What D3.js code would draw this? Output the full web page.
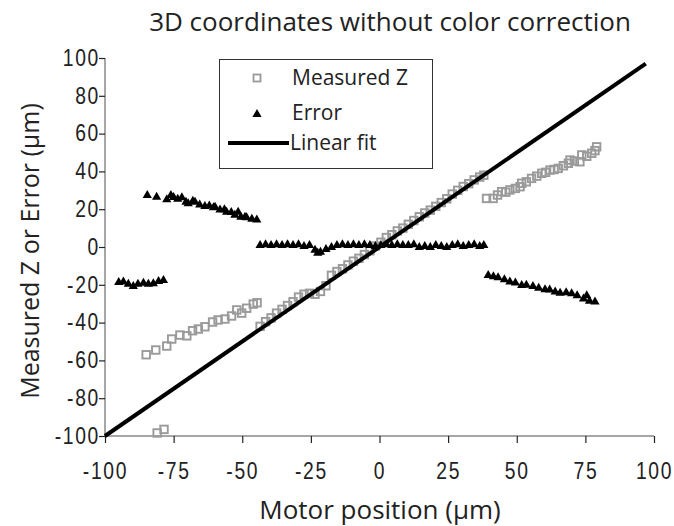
<!DOCTYPE html>
<html>
<head>
<meta charset="utf-8">
<script src="https://cdn.jsdelivr.net/npm/d3@7"></script>
<style>
  body { margin: 0; background: #fff; }
  svg text { fill: #222; }
</style>
</head>
<body>
<div id="chart"></div>
<script>
// x ticks, y ticks
var xTicks = [-100, -75, -50, -25, 0, 25, 50, 75, 100];
var yTicks = [-100, -80, -60, -40, -20, 0, 20, 40, 60, 80, 100];

// Measured Z : [motor position, measured z]
var measuredZ = [
  [-81, -98.4], [-78.5, -96.5],
  [-85, -57], [-81.5, -54.5], [-77.5, -52.4], [-75.7, -48.7], [-72.7, -46.6], [-70.2, -47],
  [-68.1, -44.3], [-66, -43.4], [-63.6, -42.2], [-60.8, -39.7], [-58.8, -38.6], [-56.3, -38.1],
  [-53.9, -36.5], [-52, -33.3], [-50.2, -35], [-48.4, -32.4], [-46, -30.2], [-44.6, -29.5],
  [-43.5, -42], [-41.5, -39.5], [-39.5, -37.5], [-37.5, -35], [-35.5, -33], [-33.5, -31],
  [-31.5, -29], [-29.5, -26.5], [-27.5, -25], [-25.5, -24.5], [-23.5, -25], [-21.5, -23.5],
  [-19.5, -20.5], [-17.5, -15], [-15.5, -13], [-13.5, -11.5], [-11.5, -9.5], [-9.5, -7.5],
  [-7.5, -6], [-5.5, -4], [-3.5, -2], [-1.5, 0.5], [0.5, 2.5], [2.5, 5], [4.5, 6.5], [6.5, 8.5],
  [8.5, 10], [10.5, 12], [12.5, 14], [14.5, 16], [16.5, 18], [18.5, 19.5], [20.5, 21.5],
  [22.5, 23.5], [24.5, 25.5], [26.5, 28], [28.5, 30], [30.5, 32], [32.5, 33.5], [34.5, 35.5],
  [36.5, 37], [38, 38],
  [39, 25.7], [41.4, 25.7], [43, 27.5], [44.5, 29.3], [46, 29], [47.5, 30.2], [49.5, 31],
  [51.2, 31.9], [51.8, 33.7], [53.5, 34.5], [55.4, 36.3], [57.3, 37.5], [59.1, 39], [60.5, 39.5],
  [62.1, 40.7], [63.6, 41], [65.1, 41.6], [67, 43], [68.8, 44.3], [69.4, 46], [71, 45.5],
  [73, 45.1], [73.7, 48.7], [75.5, 48], [77.3, 49.6], [78.5, 51], [79.1, 53]
];

// Error : [motor position, error]
var errorZ = [
  [-95, -18.5], [-93.3, -18.3], [-91.5, -19.5], [-89.7, -20.6], [-88, -19.5], [-86, -18.9],
  [-84.2, -19.5], [-82.4, -19.2], [-80.5, -18], [-78.7, -17.5],
  [-84.6, 27.5], [-81.2, 26.6], [-77.5, 25.2], [-76, 27.5], [-75, 26.5], [-73.5, 25.5],
  [-72, 26.3], [-70.5, 24], [-69.7, 23.1], [-68, 24.5], [-67.2, 24], [-65.5, 22.5],
  [-63.6, 21.7], [-62, 22], [-60.5, 21], [-59.9, 21.3], [-58.1, 19.9], [-56.5, 20],
  [-55.7, 18.7], [-54, 18.5], [-52.7, 17], [-51.5, 18.7], [-50.5, 16], [-49, 16],
  [-48.4, 15.7], [-46.5, 15], [-44.7, 14.6],
  [-43.5, 1], [-41.5, 1.5], [-39.5, 1], [-37.5, 1.5], [-35.5, 1], [-33.5, 1.5], [-31.5, 1],
  [-29.5, 1.5], [-27.5, 0.5], [-25.5, 1], [-23.5, -1.5], [-22.5, -3], [-21.5, -2.5],
  [-19.5, -1], [-17.5, 0], [-15.5, 1], [-13.5, 1.5], [-11.5, 1], [-9.5, 1.5], [-7.5, 1],
  [-5.5, 1.5], [-3.5, 1], [-1.5, 0.5], [0.5, 1], [2.5, 1.5], [4.5, 1], [6.5, 1.5], [8.5, 1],
  [10.5, 1], [12.5, 1.5], [14.5, 0], [16.5, 0.5], [18.5, 0], [20.5, 1], [22.5, 0.5],
  [24.5, 0], [26.5, 1], [28.5, 1.5], [30.5, 0.5], [32.5, 1], [34.5, 1.5], [36.5, 0.5], [38, 1],
  [39.6, -14.8], [41.5, -15.5], [43.2, -16], [45.5, -17], [47.5, -18.3], [49.5, -18.8],
  [51.8, -20.1], [53.5, -20], [55.9, -20.6], [58, -21.5], [60.3, -22.4], [62, -22.5],
  [64, -23.5], [65.8, -24.2], [68, -24], [70, -24.5], [72, -25.5], [74.3, -27.2],
  [75.5, -25.5], [76.5, -28.5], [78.5, -28.9]
];

// Linear fit end points
var fitLine = [[-100, -100], [97, 97]];

var width = 674, height = 526;

var svg = d3.select("#chart").append("svg")
    .attr("width", width)
    .attr("height", height);

var x = d3.scaleLinear().domain([-100, 100]).range([105, 654]);
var y = d3.scaleLinear().domain([-100, 100]).range([436, 58]);

var tickFont = "'Liberation Sans', Arial, sans-serif";
var labelFont = "'Open Sans', 'Noto Sans', sans-serif";
var squeeze = 0.84;   // narrow look of the tick numbers

// axes
var xAxis = svg.append("g")
    .attr("transform", "translate(0," + y(-100) + ")")
    .call(d3.axisBottom(x).tickValues(xTicks).tickSize(7).tickPadding(20)
      .tickFormat(function(d) { return d; }));
xAxis.select(".domain").attr("stroke", "#888").attr("stroke-width", 1.5)
    .attr("d", "M" + x(-100) + ",0H" + x(100));
xAxis.selectAll(".tick line").attr("stroke", "#222").attr("stroke-width", 1.2);
xAxis.selectAll("text")
    .attr("transform", "scale(" + squeeze + ",1)")
    .style("font-family", tickFont)
    .style("font-size", "23px")
    .style("letter-spacing", "2px")
    .attr("fill", "#222");

var yAxis = svg.append("g")
    .attr("transform", "translate(" + x(-100) + ",0)")
    .call(d3.axisLeft(y).tickValues(yTicks).tickSize(6).tickPadding(8)
      .tickFormat(function(d) { return d; }));
yAxis.select(".domain").attr("stroke", "#888").attr("stroke-width", 1.5)
    .attr("d", "M0," + y(100) + "V" + y(-100));
yAxis.selectAll(".tick line").attr("stroke", "#222").attr("stroke-width", 1.2);
yAxis.selectAll("text")
    .attr("x", -5 / squeeze)
    .attr("transform", "scale(" + squeeze + ",1)")
    .style("font-family", tickFont)
    .style("font-size", "23px")
    .style("letter-spacing", "2px")
    .attr("fill", "#222");

// squares
var sq = 7.5;
svg.append("g").selectAll("rect")
    .data(measuredZ)
  .enter().append("rect")
    .attr("x", function(d) { return x(d[0]) - sq / 2; })
    .attr("y", function(d) { return y(d[1]) - sq / 2; })
    .attr("width", sq)
    .attr("height", sq)
    .attr("fill", "none")
    .attr("stroke", "#9a9a9a")
    .attr("stroke-width", 1.9);

// triangles
var tri = "M0,-5L4.6,3L-4.6,3Z";
svg.append("g").selectAll("path")
    .data(errorZ)
  .enter().append("path")
    .attr("d", tri)
    .attr("transform", function(d) { return "translate(" + x(d[0]) + "," + y(d[1]) + ")"; })
    .attr("fill", "#000");

// linear fit
svg.append("path")
    .datum(fitLine)
    .attr("d", d3.line().x(function(d) { return x(d[0]); }).y(function(d) { return y(d[1]); }))
    .attr("stroke", "#000")
    .attr("stroke-width", 4)
    .attr("fill", "none");

// legend
var lg = svg.append("g");
lg.append("rect")
    .attr("x", 219.5).attr("y", 59.5)
    .attr("width", 213).attr("height", 109)
    .attr("fill", "#fff")
    .attr("stroke", "#333")
    .attr("stroke-width", 1);
lg.append("rect")
    .attr("x", 257 - 3.5).attr("y", 78 - 3.5)
    .attr("width", 7).attr("height", 7)
    .attr("fill", "none").attr("stroke", "#9a9a9a").attr("stroke-width", 1.8);
lg.append("path")
    .attr("d", tri)
    .attr("transform", "translate(257,114)")
    .attr("fill", "#000");
lg.append("line")
    .attr("x1", 228).attr("x2", 289)
    .attr("y1", 143).attr("y2", 143)
    .attr("stroke", "#000").attr("stroke-width", 4);
var legendNames = ["Measured Z", "Error", "Linear fit"];
var legendY = [78, 113, 143];
var legendX = [292, 292, 290];
lg.selectAll("text.lab")
    .data(legendNames)
  .enter().append("text")
    .attr("class", "lab")
    .attr("x", function(d, i) { return legendX[i]; })
    .attr("y", function(d, i) { return legendY[i]; })
    .attr("dy", "0.35em")
    .style("font-family", labelFont)
    .style("font-size", "21px")
    .text(function(d) { return d; });

// title and axis titles
svg.append("text")
    .attr("x", 390).attr("y", 31)
    .attr("text-anchor", "middle")
    .style("font-family", labelFont)
    .style("font-size", "26px")
    .text("3D coordinates without color correction");

svg.append("text")
    .attr("x", 380).attr("y", 519)
    .attr("text-anchor", "middle")
    .style("font-family", labelFont)
    .style("font-size", "26px")
    .text("Motor position (\u00b5m)");

svg.append("text")
    .attr("transform", "translate(39,251) rotate(-90)")
    .attr("text-anchor", "middle")
    .style("font-family", labelFont)
    .style("font-size", "25px")
    .text("Measured Z or Error (\u00b5m)");
</script>
</body>
</html>
